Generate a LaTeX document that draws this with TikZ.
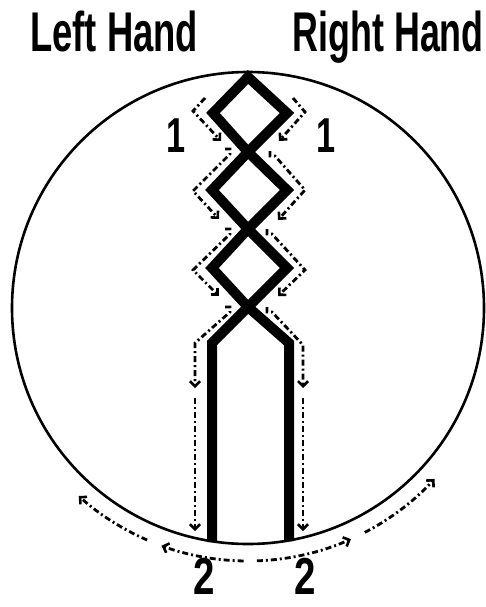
\documentclass[tikz,border=0pt]{standalone}
\usepackage{fontspec}
\setmainfont{Liberation Sans}
\usetikzlibrary{arrows.meta}
\tikzset{
  title/.style={font=\fontsize{56}{60}\selectfont\bfseries, inner sep=0pt},
  numA/.style={font=\fontsize{49}{52}\selectfont\bfseries, inner sep=0pt, anchor=base, text depth=0pt},
  numB/.style={font=\fontsize{52}{54}\selectfont\bfseries, inner sep=0pt, anchor=base, text depth=0pt},
  ring/.style={line width=2.6pt},
  strand/.style={line width=10pt, line join=miter, line cap=butt},
  move/.style={line width=2.8pt, dash pattern=on 6pt off 3pt on 2pt off 3pt,
    -{Straight Barb[length=5pt,width=10pt,line width=2.6pt]}},
}
\begin{document}
\begin{tikzpicture}[x=1pt,y=-1pt]
\useasboundingbox (0,0) rectangle (485,607);
% titles
\node[title, anchor=base west] (lh) at (30,52) {\scalebox{0.65}[1]{Left Hand}};
\node[title, anchor=base east] (rh) at (484,52) {\scalebox{0.64}[1]{Right Hand}};
% circle
\coordinate (C) at (248,308);
\draw[ring] (C) circle[radius=236];
% braid
\coordinate (top) at (248,77);
\coordinate (x1) at (248,152);
\coordinate (x2) at (248,229);
\coordinate (x3) at (248,307);
\coordinate (bl) at (212,542);
\coordinate (br) at (289,541);
\draw[strand] (bl) -- (212,343) -- (x3) -- (287,268) -- (x2) -- (212,190) -- (x1)
  -- (287,113) -- (top) -- (213,113) -- (x1) -- (287,190) -- (x2) -- (212,268)
  -- (x3) -- (289,343) -- (br);
% left hand moves
\draw[move] (205,98) -- (193,111) -- (221,141);
\draw[move] (225,149) -- (230,149) -- (230,154) -- (193,191) -- (219,219);
\draw[move] (225,229) -- (230,229) -- (230,234) -- (193,270) -- (219,296);
\draw[move] (225,307) -- (230,307) -- (230,312) -- (195,343) -- (195,388);
\draw[move] (195,398) -- (195,531);
% right hand moves
\draw[move] (293,98) -- (305,112) -- (279,141);
\draw[move] (270,151) -- (270,156) -- (275,156) -- (305,190) -- (278,220);
\draw[move] (267,229) -- (267,234) -- (272,234) -- (305,270) -- (278,296);
\draw[move] (267,307) -- (267,312) -- (272,312) -- (303,345) -- (303,388);
\draw[move] (303,398) -- (303,531);
% bottom arcs
\draw[move] ([shift={(91:253)}]C) arc[start angle=91, end angle=110, radius=253];
\draw[move] ([shift={(113.5:253)}]C) arc[start angle=113.5, end angle=132, radius=253];
\draw[move] ([shift={(88:253)}]C) arc[start angle=88, end angle=66, radius=253];
\draw[move] ([shift={(62.5:253)}]C) arc[start angle=62.5, end angle=42.5, radius=253];
% numbers
\node[numA] (n1l) at (176,152) {\scalebox{0.7}[1]{1}};
\node[numA] (n1r) at (326,152) {\scalebox{0.7}[1]{1}};
\node[numB] (n2l) at (204,594) {\scalebox{0.74}[1]{2}};
\node[numB] (n2r) at (305,594) {\scalebox{0.74}[1]{2}};
\end{tikzpicture}
\end{document}
